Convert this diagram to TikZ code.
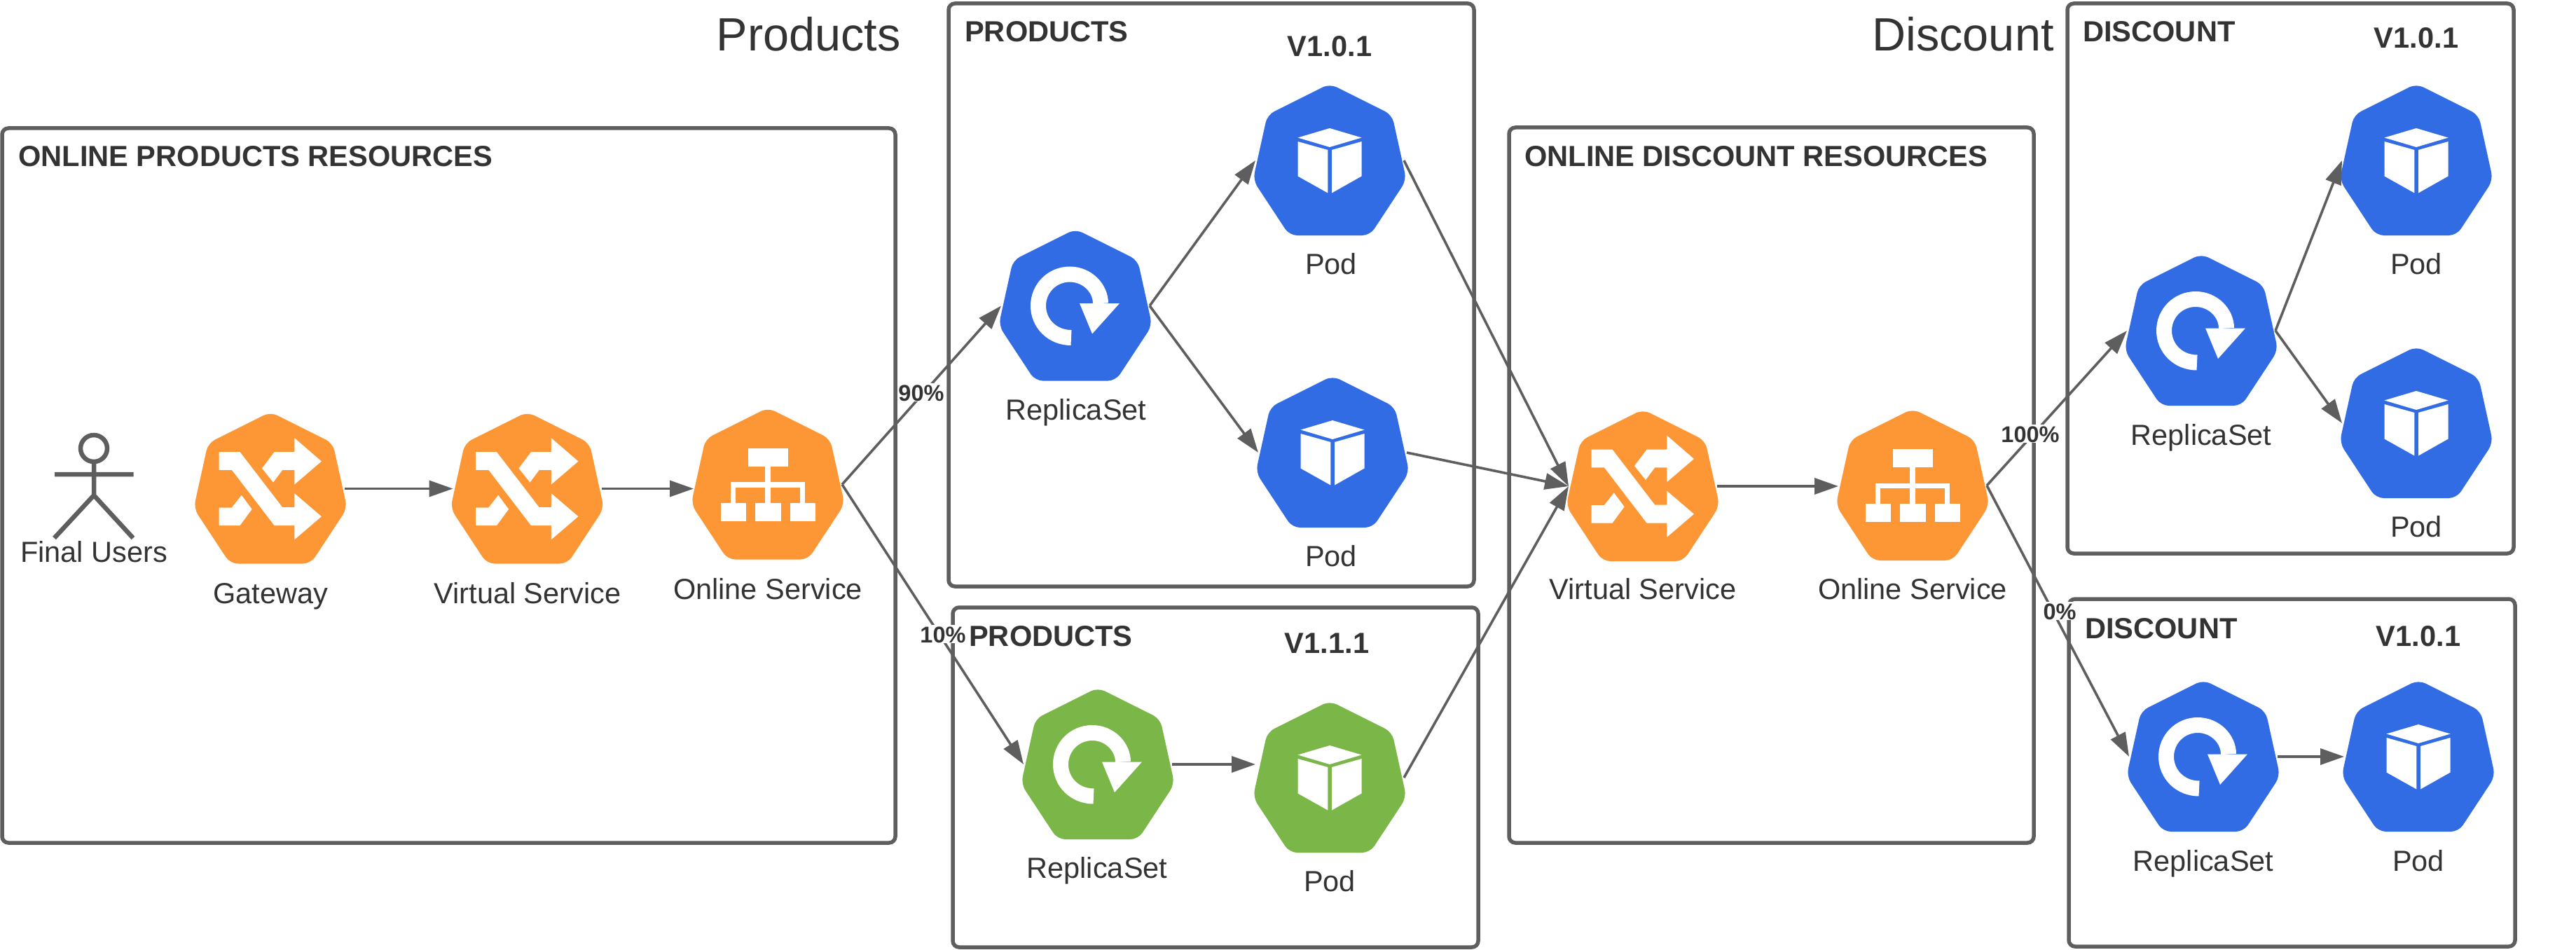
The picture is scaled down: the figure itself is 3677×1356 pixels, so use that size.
\documentclass[tikz,border=0pt]{standalone}
\usepackage{fontspec}
\setmainfont{Liberation Sans}
\usetikzlibrary{arrows.meta}
\definecolor{lineg}{HTML}{5E5E5E}
\definecolor{txt}{HTML}{333333}
\definecolor{ora}{HTML}{FD9635}
\definecolor{blu}{HTML}{326CE5}
\definecolor{gre}{HTML}{7AB648}
\tikzset{
  x=1pt,y=-1pt,
  iconbox/.style={inner sep=0pt,outer sep=0pt,minimum width=212pt,minimum height=213pt},
  grp/.style={draw=lineg,line width=5.5pt,rounded corners=9pt},
  conn/.style={draw=lineg,line width=3.6pt,-{Triangle[length=34pt,width=23pt]}},
  lbl/.style={inner sep=0pt,text=txt,font=\fontsize{41.5}{42}\selectfont,text height=30pt,text depth=0pt},
  head/.style={inner sep=0pt,text=txt,font=\fontsize{41.6}{42}\selectfont\bfseries,text height=30pt,text depth=0pt},
  bigt/.style={inner sep=0pt,text=txt,font=\fontsize{66.6}{67}\selectfont,text height=48pt,text depth=0pt},
  pct/.style={inner sep=1pt,fill=white,text=txt,font=\fontsize{32.5}{33}\selectfont\bfseries,text height=24pt,text depth=0pt},
  pics/heptagon/.style={code={
    \fill[#1,rounded corners=11pt] (0,-109.5) -- (89,-65) -- (109.5,28) -- (57.5,107) -- (-57.5,107) -- (-109.5,28) -- (-89,-65) -- cycle;
  }},
  pics/shuffle/.style={code={
    \fill[white] (-73.5,-52.5) -- (-43.6,-52.5) -- (17.2,26.7) -- (34.4,26.7) -- (34.4,6.7) -- (72.9,39.7) -- (34.4,72.7) -- (34.4,52.7) -- (5.7,52.7) -- (-55.1,-26.7) -- (-73.5,-26.7) -- cycle;
    \fill[white] (-12,-29) -- (5.7,-52.5) -- (34.4,-52.5) -- (34.4,-72.3) -- (72.9,-39) -- (34.4,-6) -- (34.4,-26.7) -- (17.2,-26.7) -- (4,-9) -- cycle;
    \fill[white] (-73.5,27) -- (-55.1,27) -- (-41.3,9.3) -- (-26.4,29.3) -- (-43.6,52.7) -- (-73.5,52.7) -- cycle;
  }},
  pics/tree/.style={code={
    \fill[white] (-28.5,-51.7) rectangle (28.5,-25.7);
    \fill[white] (-3.7,-25.7) rectangle (3.7,26);
    \fill[white] (-52.7,-3.3) rectangle (52.7,4);
    \fill[white] (-52.7,-3.3) rectangle (-46.3,26);
    \fill[white] (46.3,-3.3) rectangle (52.7,26);
    \fill[white] (-67.3,26.3) rectangle (-31.3,52);
    \fill[white] (-18.3,26.3) rectangle (18.7,52);
    \fill[white] (31.7,26.3) rectangle (67.7,52);
  }},
  pics/cube/.style={code={
    \fill[white] (0,-46) -- (45.5,-32.5) -- (0,-19) -- (-45.5,-32.5) -- cycle;
    \fill[white] (-45.5,-27) -- (-2.7,-15) -- (-2.7,46.5) -- (-45.5,22.5) -- cycle;
    \fill[white] (45.5,-27) -- (3,-15) -- (3,46.5) -- (45.5,22.5) -- cycle;
  }},
  pics/cycle/.style={code={
    \draw[white,line width=22pt] (-6,45.5) .. controls (-33,45.5) and (-53,25) .. (-53,0) .. controls (-53,-25) and (-33,-45) .. (-8,-45) .. controls (17,-45) and (36,-25) .. (36,-3.5);
    \fill[white] (6,-3.5) -- (63,-3.5) -- (24,40) -- cycle;
  }},
}
\begin{document}
\begin{tikzpicture}
\useasboundingbox (0,0) rectangle (3677,1356);
% group boxes
\draw[grp] (3,183) rectangle (1278,1203);
\draw[grp] (1354,5) rectangle (2104,837);
\draw[grp] (1360,867) rectangle (2110,1352);
\draw[grp] (2154,182) rectangle (2903,1203);
\draw[grp] (2951,5) rectangle (3588,790);
\draw[grp] (2953,855) rectangle (3590,1351);
% icon anchors
\node[iconbox] (gw) at (386,697.5) {};
\node[iconbox] (vs) at (752.5,697.5) {};
\node[iconbox] (os) at (1096,691.5) {};
\node[iconbox] (rs) at (1535,436.5) {};
\node[iconbox] (p1) at (1898,229) {};
\node[iconbox] (p2) at (1902,646) {};
\node[iconbox] (rg) at (1567,1091) {};
\node[iconbox] (pg) at (1898,1110) {};
\node[iconbox] (vt) at (2345,694) {};
\node[iconbox] (ot) at (2730,693) {};
\node[iconbox] (rd) at (3142,472) {};
\node[iconbox] (pa) at (3449,229) {};
\node[iconbox] (pb) at (3449,604) {};
\node[iconbox] (re) at (3145,1080) {};
\node[iconbox] (pc) at (3452,1080) {};
% icons
\pic at (gw) {heptagon=ora}; \pic at (gw) {shuffle};
\pic at (vs) {heptagon=ora}; \pic at (vs) {shuffle};
\pic at (os) {heptagon=ora}; \pic at (os) {tree};
\pic at (rs) {heptagon=blu}; \pic at (rs) {cycle};
\pic at (p1) {heptagon=blu}; \pic at (p1) {cube};
\pic at (p2) {heptagon=blu}; \pic at (p2) {cube};
\pic at (rg) {heptagon=gre}; \pic at (rg) {cycle};
\pic at (pg) {heptagon=gre}; \pic at (pg) {cube};
\pic at (vt) {heptagon=ora}; \pic at (vt) {shuffle};
\pic at (ot) {heptagon=ora}; \pic at (ot) {tree};
\pic at (rd) {heptagon=blu}; \pic at (rd) {cycle};
\pic at (pa) {heptagon=blu}; \pic at (pa) {cube};
\pic at (pb) {heptagon=blu}; \pic at (pb) {cube};
\pic at (re) {heptagon=blu}; \pic at (re) {cycle};
\pic at (pc) {heptagon=blu}; \pic at (pc) {cube};
% stick figure
\draw[lineg,line width=6.5pt] (134,640) ellipse (19 and 19);
\draw[lineg,line width=6.5pt,line join=round] (134,660) -- (134,707) (78,677) -- (190.6,677) (77.5,768) -- (134,707) -- (190,768);
% connectors
\draw[conn] (gw.east) -- (vs.west);
\draw[conn] (vs.east) -- (vs.east -| os.west);
\draw[conn] (os.east) -- (rs.west);
\draw[conn] (os.east) -- (rg.west);
\draw[conn] (rs.east) -- (p1.west);
\draw[conn] (rs.east) -- (p2.west);
\draw[conn] (rg.east) -- (rg.east -| pg.west);
\draw[conn] (p1.east) -- (vt.west);
\draw[conn] (p2.east) -- (vt.west);
\draw[conn] (pg.east) -- (vt.west);
\draw[conn] (vt.east) -- (vt.east -| ot.west);
\draw[conn] (ot.east) -- (rd.west);
\draw[conn] (ot.east) -- (re.west);
\draw[conn] (rd.east) -- (pa.west);
\draw[conn] (rd.east) -- (pb.west);
\draw[conn] (re.east) -- (pc.west);
% labels
\node[lbl] (t1) at (134,787) {Final Users};
\node[lbl] (t2) at (386,846) {Gateway};
\node[lbl] (t3) at (753,846) {Virtual Service};
\node[lbl] (t4) at (1096,840) {Online Service};
\node[lbl] (t5) at (1536,584) {ReplicaSet};
\node[lbl] (t6) at (1900,376) {Pod};
\node[lbl] (t7) at (1900,793) {Pod};
\node[lbl] (t8) at (1566,1238) {ReplicaSet};
\node[lbl] (t9) at (1898,1257) {Pod};
\node[lbl] (t10) at (2345,840) {Virtual Service};
\node[lbl] (t11) at (2730,840) {Online Service};
\node[lbl] (t12) at (3142,620) {ReplicaSet};
\node[lbl] (t13) at (3449,376) {Pod};
\node[lbl] (t14) at (3449,751) {Pod};
\node[lbl] (t15) at (3145,1228) {ReplicaSet};
\node[lbl] (t16) at (3452,1228) {Pod};
\node[head,anchor=west] (h1) at (26,223) {ONLINE PRODUCTS RESOURCES};
\node[head,anchor=west] (h2) at (2176,223) {ONLINE DISCOUNT RESOURCES};
\node[head,anchor=west] (h3) at (1377,45) {PRODUCTS};
\node[head,anchor=west] (h4) at (1383,907) {PRODUCTS};
\node[head,anchor=west] (h5) at (2973,45) {DISCOUNT};
\node[head,anchor=west] (h6) at (2976,896) {DISCOUNT};
\node[head] (v1) at (1898,66) {V1.0.1};
\node[head] (v2) at (1894,917) {V1.1.1};
\node[head] (v3) at (3449,54) {V1.0.1};
\node[head] (v4) at (3452,907) {V1.0.1};
\node[bigt] (b1) at (1154,49) {Products};
\node[bigt] (b2) at (2802,49) {Discount};
\node[pct] (c1) at (1315,560) {90\%};
\node[pct] (c2) at (1346,905) {10\%};
\node[pct] (c3) at (2898,619) {100\%};
\node[pct] (c4) at (2940,872) {0\%};
\end{tikzpicture}
\end{document}
